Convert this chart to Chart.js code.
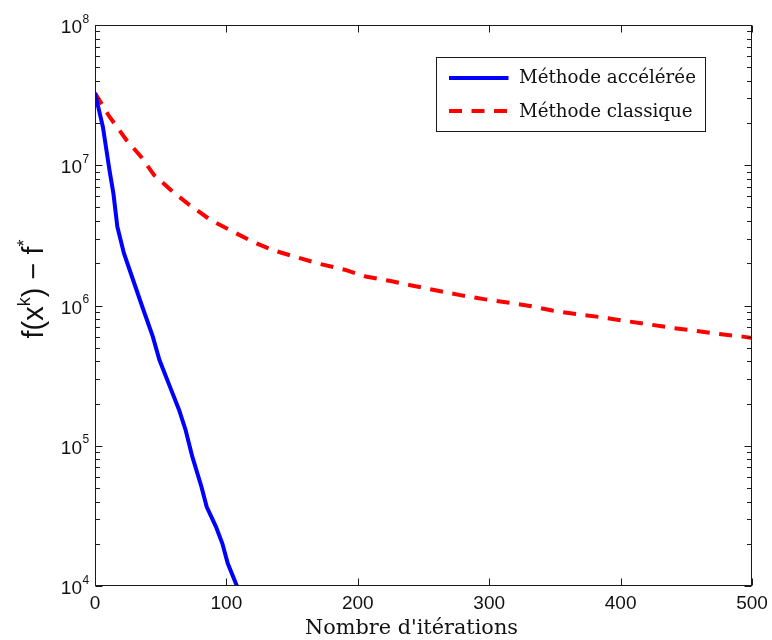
<!DOCTYPE html>
<html><head><meta charset="utf-8">
<script src="https://cdn.jsdelivr.net/npm/chart.js@4/dist/chart.umd.min.js"></script>
<style>html,body{margin:0;padding:0;background:#fff;} canvas{display:block;}</style>
</head><body>
<canvas id="c" width="772" height="640"></canvas>
<script>
// ---- data ----
const seriesNames = ['Méthode accélérée', 'Méthode classique'];
const accelIter  = [0, 6, 11, 14, 17, 22, 29, 36, 44, 49, 57, 64, 69, 74, 81, 85, 92, 97, 101, 108];
const accelValue = [3.27e7, 1.88e7, 9.25e6, 6.3e6, 3.65e6, 2.36e6, 1.52e6, 9.8e5, 6.0e5, 4.1e5,
                    2.64e5, 1.8e5, 1.29e5, 8.4e4, 5.1e4, 3.67e4, 2.65e4, 2.0e4, 1.45e4, 1.0e4];
const classicIter  = [0, 11, 24, 35, 45, 59, 72, 88, 105, 120, 135, 154, 171, 190, 206, 224, 241, 260,
                      277, 296, 314, 331, 348, 366, 385, 402, 421, 438, 456, 474, 493, 500];
const classicValue = [3.27e7, 2.22e7, 1.51e7, 1.15e7, 8.5e6, 6.5e6, 5.2e6, 4.07e6, 3.36e6, 2.85e6,
                      2.49e6, 2.2e6, 1.98e6, 1.8e6, 1.61e6, 1.5e6, 1.39e6, 1.28e6, 1.19e6, 1.11e6,
                      1.05e6, 9.93e5, 9.2e5, 8.7e5, 8.25e5, 7.8e5, 7.35e5, 6.95e5, 6.62e5, 6.27e5,
                      6.0e5, 5.87e5];
const xTickValues = [0, 100, 200, 300, 400, 500];
const yTickExponents = [4, 5, 6, 7, 8];
const xAxisTitle = "Nombre d'itérations";
const yAxisTitleParts = [['f(x', false], ['k', true], [') \u2212 f', false], ['*', true]];

const colors = ['#0000ff', '#ff0000'];
const dashes = [[], [13, 9.5]];

function pts(xs, ys) { return xs.map((x, i) => ({x: x, y: ys[i]})); }

const SANS = '"Liberation Sans", Arial, sans-serif';
const SERIF = '"DejaVu Serif", serif';

function fitFont(ctx, text, family, targetW) {
  ctx.font = '20px ' + family;
  const w = ctx.measureText(text).width;
  return 20 * targetW / w;
}

const decor = {
  id: 'decor',
  afterDraw(chart) {
    const ctx = chart.ctx;
    const a = chart.chartArea;
    const xs = chart.scales.x, ys = chart.scales.y;
    const L = a.left + 0.5, R = a.right - 0.5, T = a.top + 0.5, B = a.bottom - 0.5;
    ctx.save();
    // frame
    ctx.strokeStyle = '#1a1a1a';
    ctx.lineWidth = 1;
    ctx.strokeRect(L, T, R - L, B - T);
    // ticks
    ctx.beginPath();
    const majLen = 7, minLen = 4.5;
    for (const v of xTickValues) {
      const px = Math.round(xs.getPixelForValue(v)) + 0.5;
      ctx.moveTo(px, B); ctx.lineTo(px, B - majLen);
      ctx.moveTo(px, T); ctx.lineTo(px, T + majLen);
    }
    for (let i = 0; i < yTickExponents.length; i++) {
      const e = yTickExponents[i];
      const py = Math.round(ys.getPixelForValue(Math.pow(10, e))) + 0.5;
      ctx.moveTo(L, py); ctx.lineTo(L + majLen, py);
      ctx.moveTo(R, py); ctx.lineTo(R - majLen, py);
      if (i < yTickExponents.length - 1) {
        for (let k = 2; k <= 9; k++) {
          const qy = Math.round(ys.getPixelForValue(k * Math.pow(10, e))) + 0.5;
          ctx.moveTo(L, qy); ctx.lineTo(L + minLen, qy);
          ctx.moveTo(R, qy); ctx.lineTo(R - minLen, qy);
        }
      }
    }
    ctx.stroke();
    // tick labels
    ctx.fillStyle = '#111';
    ctx.textBaseline = 'alphabetic';
    ctx.font = '19px ' + SANS;
    ctx.textAlign = 'center';
    for (const v of xTickValues) {
      ctx.fillText(String(v), xs.getPixelForValue(v), a.bottom + 23);
    }
    for (const e of yTickExponents) {
      const py = ys.getPixelForValue(Math.pow(10, e));
      ctx.font = '19px ' + SANS;
      ctx.textAlign = 'right';
      ctx.fillText('10', a.left - 13, py + 8);
      ctx.font = '12px ' + SANS;
      ctx.textAlign = 'left';
      ctx.fillText(String(e), a.left - 12.5, py - 2.5);
    }
    // x title
    ctx.textAlign = 'center';
    const xfs = fitFont(ctx, xAxisTitle, SERIF, 213);
    ctx.font = xfs.toFixed(2) + 'px ' + SERIF;
    ctx.fillText(xAxisTitle, 411.5, 634);
    // y title (rich, rotated)
    const big = 29, small = 18;
    let total = 0;
    for (const [t, sup] of yAxisTitleParts) {
      ctx.font = (sup ? small : big) + 'px ' + SANS;
      total += ctx.measureText(t).width;
    }
    ctx.save();
    ctx.translate(43, 289);
    ctx.rotate(-Math.PI / 2);
    ctx.textAlign = 'left';
    let cx = -total / 2;
    for (const [t, sup] of yAxisTitleParts) {
      ctx.font = (sup ? small : big) + 'px ' + SANS;
      ctx.fillText(t, cx, sup ? -13 : 0);
      cx += ctx.measureText(t).width;
    }
    ctx.restore();
    // legend
    const bx = 436.5, by = 57.5, bw = 269, bh = 74;
    ctx.fillStyle = '#fff';
    ctx.fillRect(bx, by, bw, bh);
    ctx.strokeStyle = '#1a1a1a';
    ctx.lineWidth = 1;
    ctx.strokeRect(bx, by, bw, bh);
    const lfs = fitFont(ctx, seriesNames[0], SERIF, 177);
    const rows = [78, 111];
    const tBase = [82.5, 116.5];
    ctx.textAlign = 'left';
    chart.data.datasets.forEach((ds, i) => {
      ctx.beginPath();
      ctx.strokeStyle = ds.borderColor;
      ctx.lineWidth = 4;
      ctx.setLineDash(ds.borderDash || []);
      ctx.moveTo(449, rows[i]); ctx.lineTo(508.5, rows[i]);
      ctx.stroke();
      ctx.setLineDash([]);
      ctx.fillStyle = '#111';
      ctx.font = lfs.toFixed(2) + 'px ' + SERIF;
      ctx.fillText(ds.label, 519, tBase[i]);
    });
    ctx.restore();
  }
};

new Chart(document.getElementById('c'), {
  type: 'line',
  data: {
    datasets: [
      { label: seriesNames[0], data: pts(accelIter, accelValue), borderColor: colors[0],
        borderWidth: 4, borderDash: dashes[0], pointRadius: 0, tension: 0, fill: false },
      { label: seriesNames[1], data: pts(classicIter, classicValue), borderColor: colors[1],
        borderWidth: 4, borderDash: dashes[1], pointRadius: 0, tension: 0, fill: false }
    ]
  },
  options: {
    responsive: false,
    animation: false,
    devicePixelRatio: 1,
    layout: { padding: { left: 0, right: 20, top: 25, bottom: 0 } },
    plugins: { legend: { display: false }, tooltip: { enabled: false } },
    scales: {
      x: { type: 'linear', min: 0, max: 500,
           ticks: { display: false }, grid: { display: false }, border: { display: false },
           afterFit(s) { s.height = 54; } },
      y: { type: 'logarithmic', min: 1e4, max: 1e8,
           ticks: { display: false }, grid: { display: false }, border: { display: false },
           afterFit(s) { s.width = 95; } }
    }
  },
  plugins: [decor]
});
</script>
</body></html>
